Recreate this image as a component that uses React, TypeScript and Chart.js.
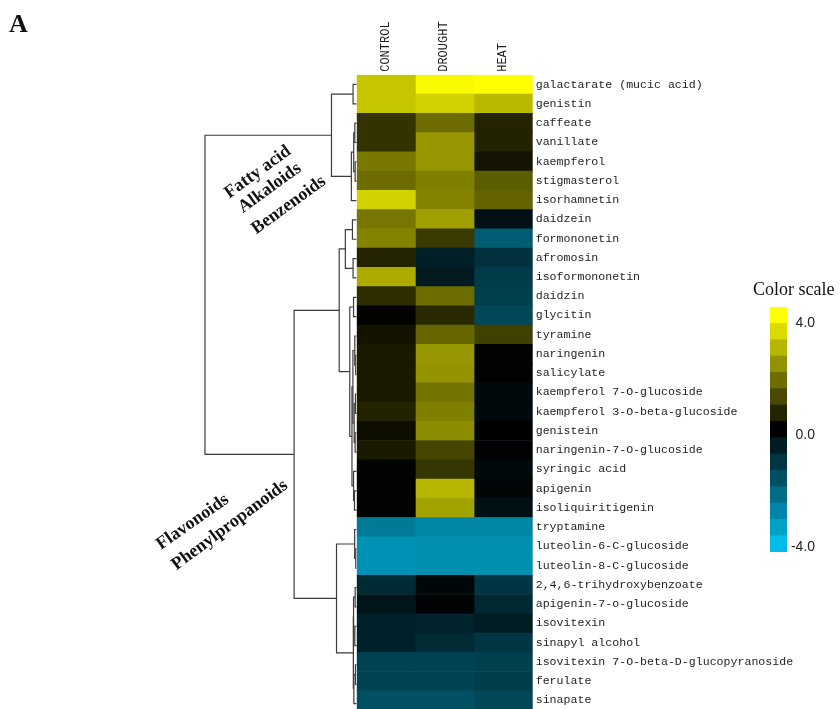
import React, { useEffect, useRef } from "react";
import { Chart, registerables } from "chart.js";

Chart.register(...registerables);

// Metabolites in dendrogram (display) order, top to bottom
const METABOLITES = [
  "galactarate (mucic acid)",
  "genistin",
  "caffeate",
  "vanillate",
  "kaempferol",
  "stigmasterol",
  "isorhamnetin",
  "daidzein",
  "formononetin",
  "afromosin",
  "isoformononetin",
  "daidzin",
  "glycitin",
  "tyramine",
  "naringenin",
  "salicylate",
  "kaempferol 7-O-glucoside",
  "kaempferol 3-O-beta-glucoside",
  "genistein",
  "naringenin-7-O-glucoside",
  "syringic acid",
  "apigenin",
  "isoliquiritigenin",
  "tryptamine",
  "luteolin-6-C-glucoside",
  "luteolin-8-C-glucoside",
  "2,4,6-trihydroxybenzoate",
  "apigenin-7-o-glucoside",
  "isovitexin",
  "sinapyl alcohol",
  "isovitexin 7-O-beta-D-glucopyranoside",
  "ferulate",
  "sinapate",
];

const CONDITIONS = ["CONTROL", "DROUGHT", "HEAT"];

// Log-scaled relative abundance per condition (colour scale -4 .. 4)
const CONTROL = [
  3.1, 3.1, 0.8, 0.8, 1.9, 1.7, 3.3, 1.85, 2.05, 0.55, 2.7, 0.7, 0.05, 0.3,
  0.4, 0.4, 0.4, 0.55, 0.2, 0.4, 0.03, 0.03, 0.03, -2.6, -3.1, -3.1, -0.9,
  -0.45, -0.7, -0.7, -1.4, -1.4, -1.7,
];
const DROUGHT = [
  3.9, 3.3, 1.7, 2.35, 2.35, 2.0, 2.05, 2.5, 0.9, -0.65, -0.55, 1.7, 0.65,
  1.6, 2.35, 2.3, 1.8, 2.0, 2.2, 1.1, 0.85, 2.85, 2.55, -2.85, -3.05, -3.05,
  -0.15, -0.05, -0.75, -0.9, -1.4, -1.4, -1.7,
];
const HEAT = [
  4.0, 2.9, 0.55, 0.55, 0.3, 1.45, 1.55, -0.35, -1.95, -1.05, -1.25, -1.35,
  -1.5, 1.0, 0.03, 0.03, -0.2, -0.2, 0.0, -0.05, -0.2, -0.1, -0.35, -2.85,
  -3.05, -3.05, -1.15, -0.85, -0.6, -1.15, -1.35, -1.3, -1.5,
];

const SERIES = [CONTROL, DROUGHT, HEAT];

// Colour-scale legend levels (15 blocks) and labelled ticks
const SCALE_LEVELS = [
  4.0, 3.43, 2.86, 2.29, 1.71, 1.14, 0.57, 0.0, -0.57, -1.14, -1.71, -2.29,
  -2.86, -3.43, -4.0,
];
const SCALE_TICKS = [4, 0, -4];

// Hierarchical clustering of the rows: [childA, childB, distance].
// Leaves are rows 0..32; merge k creates node 33 + k.
const LINKAGE: [number, number, number][] = [
  [0, 1, 0.23], // 33
  [2, 3, 0.12], // 34
  [4, 5, 0.1], // 35
  [34, 35, 0.19], // 36
  [36, 6, 0.34], // 37
  [33, 37, 1.6], // 38  fatty acids / alkaloids / benzenoids
  [7, 8, 0.27], // 39
  [9, 10, 0.23], // 40
  [39, 40, 0.72], // 41
  [11, 12, 0.2], // 42
  [14, 15, 0.06], // 43
  [13, 43, 0.12], // 44
  [16, 17, 0.08], // 45
  [18, 19, 0.1], // 46
  [45, 46, 0.16], // 47
  [44, 47, 0.24], // 48
  [21, 22, 0.14], // 49
  [20, 49, 0.2], // 50
  [48, 50, 0.3], // 51
  [42, 51, 0.44], // 52
  [41, 52, 1.11], // 53
  [24, 25, 0.06], // 54
  [23, 54, 0.13], // 55
  [26, 27, 0.1], // 56
  [28, 29, 0.12], // 57
  [56, 57, 0.2], // 58
  [30, 31, 0.08], // 59
  [59, 32, 0.18], // 60
  [58, 60, 0.23], // 61
  [55, 61, 1.28], // 62
  [53, 62, 3.97], // 63  flavonoids / phenylpropanoids
  [38, 63, 9.62], // 64  root
];

const POS = [255, 255, 0];
const NEG = [0, 188, 232];

function heatColor(v: number): string {
  const t = Math.min(1, Math.abs(v) / 4);
  const c = v >= 0 ? POS : NEG;
  return `rgb(${Math.round(c[0] * t)},${Math.round(c[1] * t)},${Math.round(c[2] * t)})`;
}

function dendrogramSegments() {
  const ys: number[] = METABOLITES.map((_, i) => i);
  const hs: number[] = METABOLITES.map(() => 0);
  const segs: { x: number; y: number }[][] = [];
  LINKAGE.forEach(([a, b, h]) => {
    segs.push([
      { x: hs[a], y: ys[a] },
      { x: h, y: ys[a] },
      { x: h, y: ys[b] },
      { x: hs[b], y: ys[b] },
    ]);
    ys.push((ys[a] + ys[b]) / 2);
    hs.push(h);
  });
  return segs;
}

const ROW_TOP = 74.8;
const ROW_BOTTOM = 713.3;
const HEAT_LEFT = 356.7;
const HEAT_RIGHT = 532.7;
const CANVAS_H = 720;

// colour bar canvas geometry
const BAR_CANVAS_TOP = 280;
const BAR_TOP = 307;
const BAR_BOTTOM = 552;
const BAR_CANVAS_H = 300;
const BAR_WIDTH = 17;
const BAR_AXIS_WIDTH = 28;

const MONO = "'Liberation Mono', 'Courier New', monospace";
const SERIF = "'Liberation Serif', 'Times New Roman', serif";

export default function App() {
  const heatRef = useRef<HTMLCanvasElement>(null);
  const dendroRef = useRef<HTMLCanvasElement>(null);
  const scaleRef = useRef<HTMLCanvasElement>(null);

  useEffect(() => {
    const charts: Chart[] = [];

    charts.push(
      new Chart(heatRef.current!, {
        type: "bar",
        data: {
          labels: METABOLITES,
          datasets: SERIES.map((vals, j) => ({
            label: CONDITIONS[j],
            data: vals.map(() => [j, j + 1] as [number, number]),
            backgroundColor: vals.map(heatColor),
            borderWidth: 0,
            barPercentage: 1,
            categoryPercentage: 1,
            grouped: false,
          })),
        },
        options: {
          indexAxis: "y",
          responsive: false,
          animation: false,
          layout: {
            padding: { left: HEAT_LEFT, right: 0, top: 0, bottom: CANVAS_H - ROW_BOTTOM },
          },
          plugins: { legend: { display: false }, tooltip: { enabled: false } },
          scales: {
            x: {
              type: "linear",
              position: "top",
              min: 0,
              max: 3,
              offset: false,
              grid: { display: false, drawTicks: false },
              border: { display: false },
              afterBuildTicks: (s: any) => {
                s.ticks = CONDITIONS.map((_, j) => ({ value: j + 0.5 }));
              },
              afterFit: (s: any) => {
                s.height = ROW_TOP;
              },
              ticks: {
                autoSkip: false,
                minRotation: 90,
                maxRotation: 90,
                padding: 3,
                labelOffset: 14,
                color: "#1e1e1e",
                font: { family: MONO, size: 12 },
                callback: (_v: any, i: number) => CONDITIONS[i],
              },
            },
            y: {
              type: "category",
              position: "right",
              grid: { display: false, drawTicks: false },
              border: { display: false },
              afterFit: (s: any) => {
                s.width = 840 - HEAT_RIGHT;
              },
              ticks: {
                autoSkip: false,
                padding: 3,
                color: "#1e1e1e",
                font: { family: MONO, size: 11.6 },
              },
            },
          },
        },
      } as any)
    );

    charts.push(
      new Chart(dendroRef.current!, {
        type: "scatter",
        data: {
          datasets: dendrogramSegments().map((seg) => ({
            data: seg,
            showLine: true,
            borderColor: "#3c3c3c",
            borderWidth: 1.2,
            pointRadius: 0,
            fill: false,
          })),
        },
        options: {
          responsive: false,
          animation: false,
          layout: {
            padding: { left: 199, right: 360 - HEAT_LEFT, top: ROW_TOP, bottom: CANVAS_H - ROW_BOTTOM },
          },
          plugins: { legend: { display: false }, tooltip: { enabled: false } },
          scales: {
            x: { type: "linear", min: 0, max: 10, reverse: true, display: false },
            y: { type: "linear", min: -0.5, max: METABOLITES.length - 0.5, reverse: true, display: false },
          },
        },
      } as any)
    );

    charts.push(
      new Chart(scaleRef.current!, {
        type: "bar",
        data: {
          labels: SCALE_LEVELS.map(String),
          datasets: [
            {
              data: SCALE_LEVELS.map(() => [0, 1] as [number, number]),
              backgroundColor: SCALE_LEVELS.map(heatColor),
              borderWidth: 0,
              barPercentage: 1,
              categoryPercentage: 1,
            },
          ],
        },
        options: {
          indexAxis: "y",
          responsive: false,
          animation: false,
          layout: {
            padding: {
              top: BAR_TOP - BAR_CANVAS_TOP,
              bottom: BAR_CANVAS_TOP + BAR_CANVAS_H - BAR_BOTTOM,
              left: 0,
              right: 0,
            },
          },
          plugins: { legend: { display: false }, tooltip: { enabled: false } },
          scales: {
            x: { type: "linear", min: 0, max: 1, display: false },
            y: { type: "category", display: false },
            v: {
              type: "linear",
              axis: "y",
              position: "right",
              offset: false,
              min: -4.179,
              max: 4.571,
              grid: { display: false, drawTicks: false },
              border: { display: false },
              afterBuildTicks: (s: any) => {
                s.ticks = SCALE_TICKS.map((value) => ({ value }));
              },
              afterFit: (s: any) => {
                s.width = BAR_AXIS_WIDTH;
              },
              ticks: {
                crossAlign: "far",
                padding: 4,
                color: "#222",
                font: { family: "'Liberation Sans', Arial, sans-serif", size: 14 },
                callback: (v: any) => Number(v).toFixed(1),
              },
            },
          },
        },
      } as any)
    );

    return () => charts.forEach((c) => c.destroy());
  }, []);

  const groupLabel = (text: string, cx: number, cy: number, angle: number) => (
    <div
      key={text}
      style={{
        position: "absolute",
        left: cx,
        top: cy,
        transform: `translate(-50%, -50%) rotate(${angle}deg)`,
        whiteSpace: "nowrap",
        fontFamily: SERIF,
        fontWeight: "bold",
        fontSize: 18,
        lineHeight: "18px",
        color: "#111",
      }}
    >
      {text}
    </div>
  );

  return (
    <div
      style={{
        position: "absolute",
        left: 0,
        top: 0,
        width: 840,
        height: 709,
        overflow: "hidden",
        background: "#fff",
      }}
    >
      <canvas ref={dendroRef} width={360} height={CANVAS_H} style={{ position: "absolute", left: 0, top: 0 }} />
      <canvas ref={heatRef} width={840} height={CANVAS_H} style={{ position: "absolute", left: 0, top: 0 }} />
      <canvas
        ref={scaleRef}
        width={BAR_WIDTH + BAR_AXIS_WIDTH}
        height={BAR_CANVAS_H}
        style={{ position: "absolute", left: 770, top: BAR_CANVAS_TOP }}
      />

      <div
        style={{
          position: "absolute",
          left: 9,
          top: 11,
          fontFamily: SERIF,
          fontWeight: "bold",
          fontSize: 26,
          lineHeight: "26px",
          color: "#111",
        }}
      >
        A
      </div>

      <div
        style={{
          position: "absolute",
          left: 753,
          top: 280,
          fontFamily: SERIF,
          fontSize: 18,
          lineHeight: "18px",
          whiteSpace: "nowrap",
          color: "#111",
        }}
      >
        Color scale
      </div>

      {groupLabel("Fatty acid", 256.7, 171, -36)}
      {groupLabel("Alkaloids", 269, 187, -36)}
      {groupLabel("Benzenoids", 288, 204, -36)}
      {groupLabel("Flavonoids", 191.7, 521, -35)}
      {groupLabel("Phenylpropanoids", 229, 524, -36.5)}
    </div>
  );
}
